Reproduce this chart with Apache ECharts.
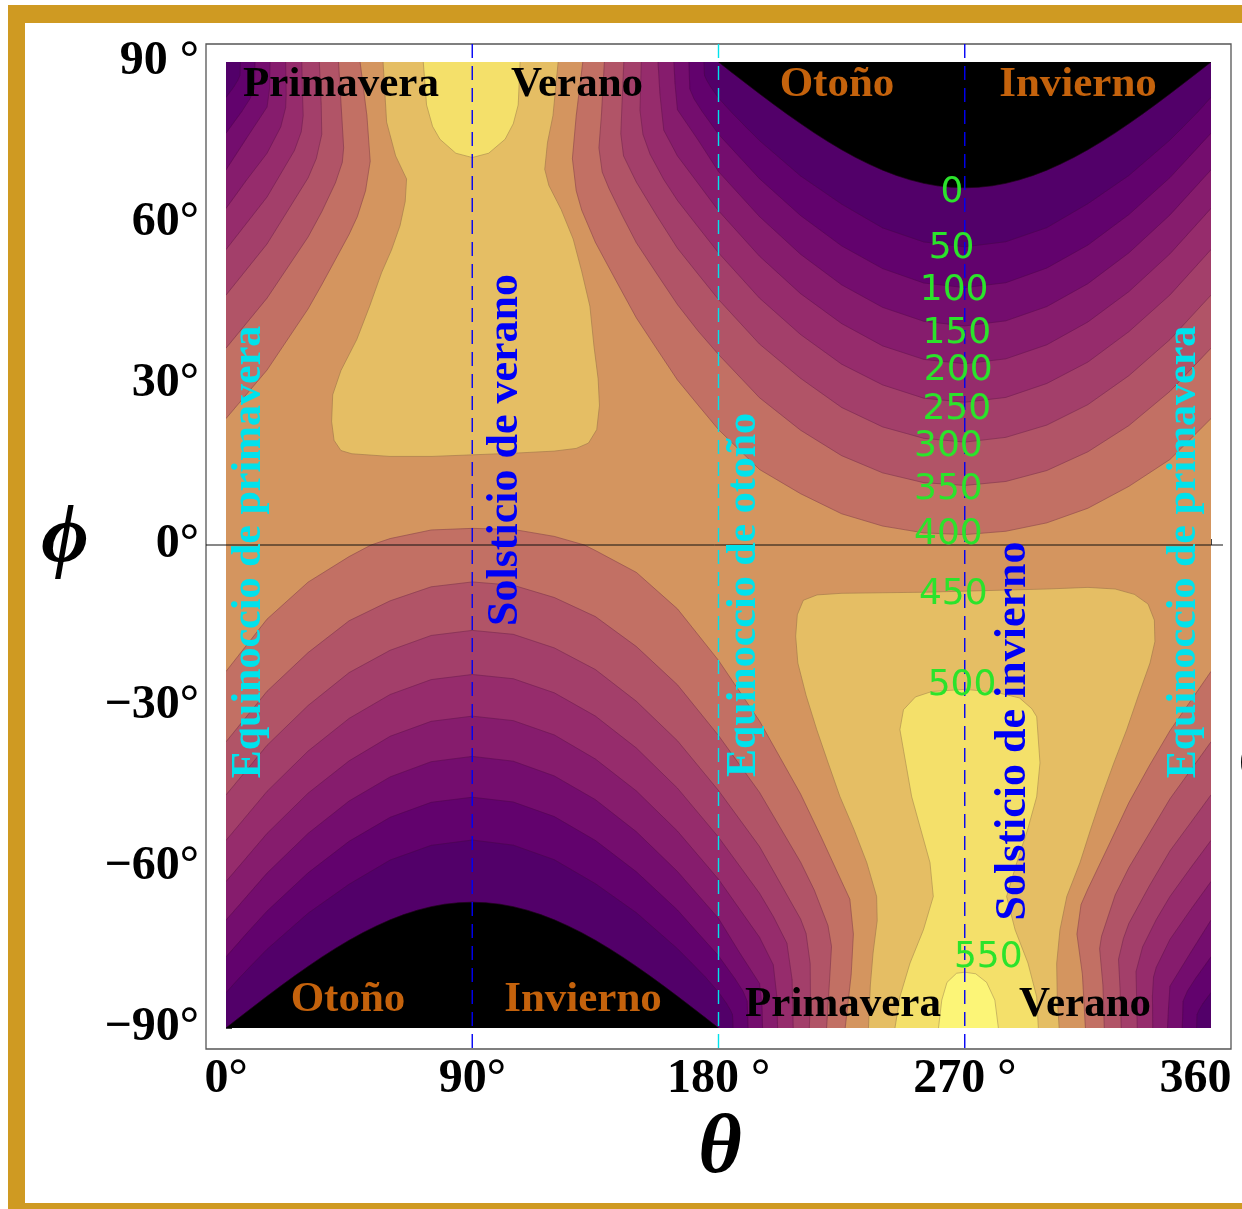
<!DOCTYPE html>
<html>
<head>
<meta charset="utf-8">
<script src="https://cdn.jsdelivr.net/npm/echarts/dist/echarts.min.js"></script>
<style>html,body{margin:0;padding:0;background:#fff}#c{width:1242px;height:1209px}</style>
</head>
<body>
<div id="c"></div>
<script>
// ---------- axes ----------
const xTicks = [0, 90, 180, 270, 360];
const xTickLabels = ['0°', '90°', '180 °', '270 °', '360 °'];
const yTicks = [-90, -60, -30, 0, 30, 60, 90];
const yTickLabels = ['−90°', '−60°', '−30°', '0°', '30°', '60°', '90 °'];

// ---------- contour levels (W/m²) and band colours ----------
const contourLevels = [0, 50, 100, 150, 200, 250, 300, 350, 400, 450, 500, 550];
// index 0 = polar night, 1 = 0-50, 2 = 50-100 ... 12 = >550
const bandColors = ['#000000', '#520069', '#62026D', '#740D6E', '#861C6D', '#962C6C', '#A33F6A',
                    '#B15467', '#C27064', '#D4955F', '#E5BE64', '#F4E06A', '#FCF577'];

// ---------- contour lines [theta, phi] ----------
// north-winter branch (top edge -> right edge)
const n400 = [[130.4,90],[128,80],[126.6,72],[128,66],[130,62.4],[135,56.4],[142.5,49.3],[150,42.3],[157.5,36.5],[165,30.75],[172.5,26.1],[180,21.5],[195,14.07],[210,9.56],[225,5.82],[240,3.53],[255,2.26],[270,1.94],[285,2.56],[300,4.13],[315,6.85],[330,10.93],[345,15.94],[360,23.56]];
const n350 = [[138.3,90],[137.2,80],[136.3,74],[137.5,69.5],[140,66.4],[145,61.2],[150,56.3],[157.5,50.5],[165,44.8],[172.5,39.9],[180,35.5],[195,27.44],[210,21.39],[225,16.65],[240,13.44],[255,11.62],[270,11.1],[285,11.84],[300,13.88],[315,17.37],[330,22.26],[345,28.63],[360,36.68]];
const n300 = [[145.4,90],[144.8,83],[144.3,76.6],[145.3,72.5],[147.5,70.2],[150,67.6],[157.5,61.3],[165,55.3],[172.5,50.5],[180,45.75],[195,37.44],[210,31.06],[225,25.63],[240,22.01],[255,19.88],[270,19.17],[285,20.06],[300,22.35],[315,26.16],[330,31.56],[345,38.28],[360,46.57]];
const n250 = [[151.8,90],[151.3,81],[152.4,76.5],[155,72.8],[160,68.1],[165,64.2],[172.5,59.3],[180,54.44],[195,46.0],[210,39.22],[225,33.7],[240,29.83],[255,27.36],[270,26.6],[285,27.5],[300,30.1],[315,34.09],[330,39.76],[345,46.59],[360,55.05]];
const n200 = [[157.9,90],[158.6,84],[160,77.3],[165,72.5],[172.5,67.4],[180,62.28],[195,53.81],[210,46.84],[225,41.26],[240,37.1],[255,34.59],[270,33.78],[285,34.69],[300,37.31],[315,41.56],[330,47.22],[345,54.25],[360,62.72]];
const n150 = [[163.7,90],[164.1,86],[165,81.1],[172.5,75.5],[180,69.58],[195,61.19],[210,54.17],[225,48.48],[240,44.28],[255,41.69],[270,40.82],[285,41.77],[300,44.43],[315,48.7],[330,54.44],[345,61.5],[360,69.9]];
const n100 = [[169.2,90],[169.5,85],[171.1,83.1],[174,80.8],[180,76.55],[187.5,72.4],[195,68.25],[210,61.39],[225,55.74],[240,51.5],[255,48.82],[270,47.96],[285,48.87],[300,51.61],[315,55.89],[330,61.58],[345,68.46],[352.5,72.6],[360,76.75]];
const n50 = [[174.7,90],[174.9,87.5],[175.7,86.6],[177.1,85.4],[180,83.3],[185,80.5],[190,77.9],[195,75.35],[210,68.77],[225,63.52],[240,59.09],[255,56.48],[270,55.56],[285,56.51],[300,59.14],[315,63.61],[330,68.87],[345,75.46],[350,78.0],[355,80.6],[360,83.42]];
// top-left corner branch (left edge -> top edge)
const w400 = [[0,23.56],[15,32.6],[30,44.0],[35,48.5],[40,53.2],[45,57.9],[48,61.2],[51,66],[52.7,71.5],[51.5,80],[49,90]];
const w350 = [[0,36.68],[15,46.0],[30,57.4],[35,62.1],[40,67.5],[42.5,71.3],[43,74],[42.3,80],[41.1,90]];
const w300 = [[0,46.57],[15,56.1],[30,68.4],[33,72.0],[35,76.5],[34.8,82],[34.1,90]];
const w250 = [[0,55.05],[15,64.85],[25,73.5],[27.5,77],[28.2,80],[27.9,85],[27.7,90]];
const w200 = [[0,62.72],[7.5,68.0],[15,73.0],[20,77.9],[21.8,81.5],[22.0,84],[21.8,90]];
const w150 = [[0,69.9],[7.5,75.8],[15,81.6],[15.9,85],[16.1,90]];
const w100 = [[0,76.75],[5.8,80.8],[8.7,83.1],[10.3,85],[10.6,90]];
const w50 = [[0,83.42],[2.9,85.4],[4.33,86.6],[5.1,87.5],[5.27,90]];
// south-winter branch (left edge -> bottom edge)
const s400 = [[0,-23.56],[15,-13.81],[30,-6.92],[45,-2.16],[53,0],[60,1.2],[75,2.8],[90,3.1],[105,2.9],[120,1.6],[131,0],[135,-1.03],[150,-5.11],[165,-11.9],[180,-21.5],[195,-32.8],[210,-46.4],[217.5,-54.4],[225,-62.7],[228,-66],[229.3,-72.5],[228.5,-80],[226.3,-90]];
const s350 = [[0,-36.68],[15,-27.26],[30,-20.05],[45,-14.12],[60,-10.4],[75,-7.79],[90,-6.88],[105,-7.5],[120,-9.79],[135,-13.34],[150,-18.93],[165,-26.05],[180,-35.5],[195,-46.1],[210,-59.1],[215,-64.3],[220,-70.9],[221.3,-74.8],[220.6,-81],[219.5,-90]];
const s300 = [[0,-46.57],[15,-37.33],[30,-29.91],[45,-23.78],[60,-19.62],[75,-16.86],[90,-15.91],[105,-16.65],[120,-19.18],[135,-23.21],[150,-29.13],[165,-36.48],[180,-45.75],[195,-56.2],[210,-69.7],[212,-72.4],[213.5,-78],[213.6,-84],[213.2,-90]];
const s250 = [[0,-55.05],[15,-45.91],[30,-38.4],[45,-32.31],[60,-27.86],[75,-25.08],[90,-24.13],[105,-24.92],[120,-27.55],[135,-31.88],[150,-37.84],[165,-45.31],[180,-54.44],[195,-64.9],[200,-69.2],[205,-74.2],[206.9,-81],[207.3,-90]];
const s200 = [[0,-62.72],[15,-53.75],[30,-46.24],[45,-40.22],[60,-35.64],[75,-32.86],[90,-31.89],[105,-32.73],[120,-35.4],[135,-39.88],[150,-45.83],[165,-53.31],[180,-62.28],[187.5,-67.7],[195,-73.1],[200,-78.2],[201.3,-84],[201.6,-90]];
const s150 = [[0,-69.9],[15,-61.14],[30,-53.74],[45,-47.7],[60,-43.21],[75,-40.38],[90,-39.39],[105,-40.29],[120,-43.04],[135,-47.45],[150,-53.44],[165,-60.83],[180,-69.58],[187.5,-75.8],[195,-81.7],[195.9,-86],[196.1,-90]];
const s100 = [[0,-76.75],[7.5,-72.4],[15,-68.22],[30,-61.09],[45,-55.21],[60,-50.74],[75,-47.95],[90,-47.0],[105,-47.89],[120,-50.61],[135,-55.05],[150,-60.9],[165,-68.01],[172.5,-72.3],[180,-76.55],[186,-80.8],[188.9,-83.1],[190.5,-85],[190.8,-90]];
const s50 = [[0,-83.42],[5,-80.6],[10,-77.95],[15,-75.33],[30,-68.62],[45,-63.21],[60,-58.71],[75,-55.97],[90,-54.98],[105,-55.93],[120,-58.65],[135,-63.11],[150,-68.53],[165,-75.22],[170,-77.8],[175,-80.4],[180,-83.32],[182.9,-85.4],[184.3,-86.6],[185.1,-87.5],[185.3,-90]];
// bottom-right corner branch (bottom edge -> right edge)
const e400 = [[314.1,-90],[313,-80],[311,-72.5],[312.5,-67],[315,-64.1],[322.5,-56.1],[330,-48],[337.5,-41.1],[345,-34.6],[352.5,-29.1],[360,-23.56]];
const e350 = [[321,-90],[320.5,-82],[319.3,-75.2],[320,-72.9],[325,-65.2],[330,-60.1],[337.5,-53.7],[345,-47.3],[352.5,-42],[360,-36.68]];
const e300 = [[327.2,-90],[326.8,-83],[326.2,-77.2],[328,-73.3],[330,-70.5],[337.5,-63.5],[345,-57.0],[352.5,-51.8],[360,-46.57]];
const e250 = [[333.05,-90],[332.8,-84],[332.6,-79.5],[335,-74.9],[340,-69.8],[345,-65.5],[352.5,-60.2],[360,-55.05]];
const e200 = [[338.7,-90],[338.6,-84],[339,-80.5],[340,-78.7],[345,-73.5],[352.5,-68.0],[360,-62.72]];
const e150 = [[344.1,-90],[344.5,-86],[345,-82.2],[352.5,-76.0],[360,-69.9]];
const e100 = [[349.5,-90],[349.8,-85],[351.4,-83.1],[354.3,-80.8],[360,-76.75]];
const e50 = [[354.75,-90],[354.9,-87.5],[355.7,-86.6],[357.1,-85.4],[360,-83.42]];
// islands above 450 / 500 / 550
const n450 = [[57.4,90],[58.7,78.8],[62,72.5],[66,68.2],[65.5,64],[63.6,59.5],[60.5,55],[56.9,50.8],[52.5,44.5],[47.8,38.3],[42,32.5],[39,28],[38.6,23],[39.5,19.5],[42,17.6],[46,17],[60,16.5],[75,16.5],[90,16.8],[105,17.1],[120,17.5],[128,18],[132.5,19],[135.5,21.5],[136.5,26],[136,31],[134.5,37],[133,44.5],[130,51],[126.9,57],[122.5,62.5],[118,67],[116.5,70],[117.5,75],[119.5,80],[121.4,90]];
const n500 = [[72.1,90],[73.3,82],[75.5,78],[78.2,75.6],[84,73],[90,72.2],[96,73],[102,75.6],[105,78.5],[106.8,82],[107.5,90]];
const s450 = [[234.8,-90],[235.5,-82],[236.5,-76],[238,-70],[237.8,-65.5],[234.2,-59.2],[229.5,-53],[224.4,-46.9],[220,-40.5],[215.9,-34.4],[212,-28],[209,-22],[208.2,-17],[208.8,-13],[211,-10.3],[216,-9.3],[225,-9],[240,-8.9],[255,-8.8],[270,-8.6],[285,-8.4],[300,-8.2],[315,-7.9],[325,-8.2],[332,-9.2],[337,-11],[339.3,-14],[339.5,-18],[337.7,-22],[333.5,-28],[329.2,-34.4],[324.5,-40.6],[320,-46.9],[316,-53],[312.1,-59.2],[307.3,-65.5],[304.8,-71.7],[303.6,-78],[303.8,-84],[304.5,-90]];
const s500 = [[244.5,-90],[246.3,-84.2],[250,-77.9],[254.9,-71.7],[258.5,-65.5],[257.3,-59.2],[250.6,-46.9],[246.3,-34.4],[247.6,-30.7],[252,-28.3],[258,-27.3],[270,-26.9],[281,-27.4],[290,-28.5],[294.5,-30.5],[296.3,-32],[297.5,-40.6],[296.3,-46.9],[293,-53],[289,-59.2],[285.3,-65.5],[288.4,-71.7],[293.1,-77.9],[296.3,-84.2],[296.9,-90]];
const s550 = [[260.4,-90],[261.6,-84.8],[263.5,-81.5],[267,-79.8],[270,-79.6],[274,-79.9],[278,-81.5],[281,-84.8],[282.3,-90]];
// polar night boundary (contour 0)
const nightN = [[180,90],[185,88.01],[190,86.04],[195,84.09],[200,82.18],[205,80.33],[210,78.53],[215,76.8],[220,75.18],[225,73.66],[230,72.25],[235,70.98],[240,69.85],[245,68.87],[250,68.05],[255,67.4],[260,66.93],[265,66.67],[270,66.56],[275,66.67],[280,66.93],[285,67.4],[290,68.05],[295,68.87],[300,69.85],[305,70.98],[310,72.25],[315,73.66],[320,75.18],[325,76.8],[330,78.53],[335,80.33],[340,82.18],[345,84.09],[350,86.04],[355,88.01],[360,90]];
const nightS = [[0,-90],[5,-88.01],[10,-86.04],[15,-84.09],[20,-82.18],[25,-80.33],[30,-78.53],[35,-76.8],[40,-75.18],[45,-73.66],[50,-72.25],[55,-70.98],[60,-69.85],[65,-68.87],[70,-68.05],[75,-67.4],[80,-66.93],[85,-66.67],[90,-66.56],[95,-66.67],[100,-66.93],[105,-67.4],[110,-68.05],[115,-68.87],[120,-69.85],[125,-70.98],[130,-72.25],[135,-73.66],[140,-75.18],[145,-76.8],[150,-78.53],[155,-80.33],[160,-82.18],[165,-84.09],[170,-86.04],[175,-88.01],[180,-90]];

// contour label texts and where they sit (theta, phi)
const labelText = ['0','50','100','150','200','250','300','350','400','450','500','550'];
const labelTheta = [265.3,265.2,266.1,267.1,267.6,267.1,264.0,264.0,264.0,265.8,269.0,278.6];
const labelPhi = [65.6,55.3,47.4,39.3,32.5,25.3,18.3,10.4,2.0,-9.3,-26.2,-76.9];

// ---------- build filled regions ----------
const sublevelSets = [
  [400, n400, w400, s400, e400], [350, n350, w350, s350, e350], [300, n300, w300, s300, e300],
  [250, n250, w250, s250, e250], [200, n200, w200, s200, e200], [150, n150, w150, s150, e150],
  [100, n100, w100, s100, e100], [50, n50, w50, s50, e50]
];
const superlevelSets = [[450, [n450, s450]], [500, [n500, s500]], [550, [s550]]];

const pieces = [];
pieces.push({ poly: [[0, 90], [360, 90], [360, -90], [0, -90]], curve: null, color: bandColors[9] });
sublevelSets.forEach(([lev, nn, ww, ss, ee]) => {
  const c = bandColors[lev / 50];
  pieces.push({ poly: nn.concat([[360, 90]]), curve: nn, color: c });
  pieces.push({ poly: [[0, 90]].concat(ww), curve: ww, color: c });
  pieces.push({ poly: [[0, -90]].concat(ss), curve: ss, color: c });
  pieces.push({ poly: ee.concat([[360, -90]]), curve: ee, color: c });
});
pieces.push({ poly: nightN, curve: nightN, color: bandColors[0] });
pieces.push({ poly: nightS, curve: nightS, color: bandColors[0] });
superlevelSets.forEach(([lev, list]) => {
  list.forEach(arr => pieces.push({ poly: arr, curve: arr, color: bandColors[lev / 50 + 1] }));
});

const chart = echarts.init(document.getElementById('c'), null, { renderer: 'canvas', width: 1242, height: 1209 });
const SERIF = '"Liberation Serif", "DejaVu Serif", serif';

chart.setOption({
  animation: false,
  backgroundColor: '#ffffff',
  grid: { left: 226, top: 62, width: 985, height: 966, containLabel: false, outerBoundsMode: 'none' },
  xAxis: {
    type: 'value', min: 0, max: 360, interval: 90, offset: 21,
    axisLine: { show: false },
    axisTick: { show: true, inside: true, length: 6, lineStyle: { color: '#444', width: 1 } },
    splitLine: { show: false },
    axisLabel: { margin: 7, showMinLabel: true, showMaxLabel: true, fontFamily: SERIF, fontWeight: 'bold',
      fontSize: 48, color: '#000', formatter: v => xTickLabels[xTicks.indexOf(v)] }
  },
  yAxis: {
    type: 'value', min: -90, max: 90, interval: 30, offset: 20,
    axisLine: { show: false },
    axisTick: { show: true, inside: true, length: 6, lineStyle: { color: '#444', width: 1 } },
    splitLine: { show: false },
    axisLabel: { margin: 7, showMinLabel: true, showMaxLabel: true, fontFamily: SERIF, fontWeight: 'bold',
      fontSize: 48, color: '#000', formatter: v => yTickLabels[yTicks.indexOf(v)] }
  },
  series: [{
    type: 'custom', coordinateSystem: 'cartesian2d', clip: true, silent: true,
    encode: { x: 0, y: 1 },
    data: pieces.map(p => p.poly[0]),
    renderItem: (params, api) => {
      const p = pieces[params.dataIndex];
      const children = [{ type: 'polygon', shape: { points: p.poly.map(pt => api.coord(pt)) },
        style: { fill: p.color, stroke: p.color, lineWidth: 0.5 } }];
      if (p.curve) {
        children.push({ type: 'polyline', shape: { points: p.curve.map(pt => api.coord(pt)) },
          style: { fill: null, stroke: 'rgba(60,10,40,0.25)', lineWidth: 1 } });
      }
      return { type: 'group', children };
    }
  }]
});

// ---------- annotations ----------
const px = (t, f) => chart.convertToPixel({ gridIndex: 0 }, [t, f]);
const ORANGE = '#C4620C', CYAN = '#00E2EC', BLUE = '#0000F5';
const g = [];
function txt(text, x, y, size, color, rot, family, weight, style) {
  g.push({ type: 'text', x, y, rotation: rot || 0, z: 100, silent: true,
    style: { text, fill: color, fontSize: size, fontFamily: family || SERIF, fontWeight: weight || 'bold',
      fontStyle: style || 'normal', align: 'center', verticalAlign: 'middle' } });
}
// gold border
g.push({ type: 'rect', z: 90, shape: { x: 8, y: 5, width: 1234, height: 18 }, style: { fill: '#CF9A22' } });
g.push({ type: 'rect', z: 90, shape: { x: 8, y: 5, width: 17, height: 1204 }, style: { fill: '#CF9A22' } });
g.push({ type: 'rect', z: 90, shape: { x: 8, y: 1203, width: 1234, height: 6 }, style: { fill: '#CF9A22' } });
// frame
g.push({ type: 'rect', z: 95, shape: { x: 206, y: 44, width: 1025, height: 1005 }, style: { fill: null, stroke: '#555', lineWidth: 1.3 } });
// equator line
const eq = px(0, 0);
g.push({ type: 'line', z: 96, shape: { x1: 206, y1: eq[1], x2: 1223, y2: eq[1] }, style: { stroke: '#111', lineWidth: 1 } });
// dashed season lines
[[90, BLUE], [180, CYAN], [270, BLUE]].forEach(([t, col]) => {
  const x = px(t, 0)[0];
  g.push({ type: 'line', z: 97, shape: { x1: x, y1: 44, x2: x, y2: 1049 }, style: { stroke: col, lineWidth: 1.4, lineDash: [14, 8] } });
});
// vertical annotations
txt('Equinoccio de primavera', 249, 552, 42, CYAN, Math.PI / 2);
txt('Solsticio de verano', 506, 450, 44, BLUE, Math.PI / 2);
txt('Equinoccio de otoño', 744, 595, 42, CYAN, Math.PI / 2);
txt('Solsticio de invierno', 1014, 731, 44, BLUE, Math.PI / 2);
txt('Equinoccio de primavera', 1184, 552, 42, CYAN, Math.PI / 2);
// seasons
txt('Primavera', 341, 85, 43, '#000');
txt('Verano', 577, 85, 43, '#000');
txt('Otoño', 837, 85, 43, ORANGE);
txt('Invierno', 1078, 85, 43, ORANGE);
txt('Otoño', 348, 1000, 43, ORANGE);
txt('Invierno', 583, 1000, 43, ORANGE);
txt('Primavera', 843, 1005, 43, '#000');
txt('Verano', 1085, 1005, 43, '#000');
// contour labels
labelText.forEach((t, i) => {
  const p = px(labelTheta[i], labelPhi[i]);
  txt(t, p[0], p[1], 36, '#2BE32B', 0, '"DejaVu Sans", sans-serif', 'normal');
});
// axis names
txt('ϕ', 65, 540, 82, '#000', 0, SERIF, 'bold', 'italic');
txt('θ', 720, 1150, 84, '#000', 0, SERIF, 'bold', 'italic');
// clipped glyph at the right edge
txt('(', 1246, 762, 40, '#000');

chart.setOption({ graphic: g });
</script>
</body>
</html>
